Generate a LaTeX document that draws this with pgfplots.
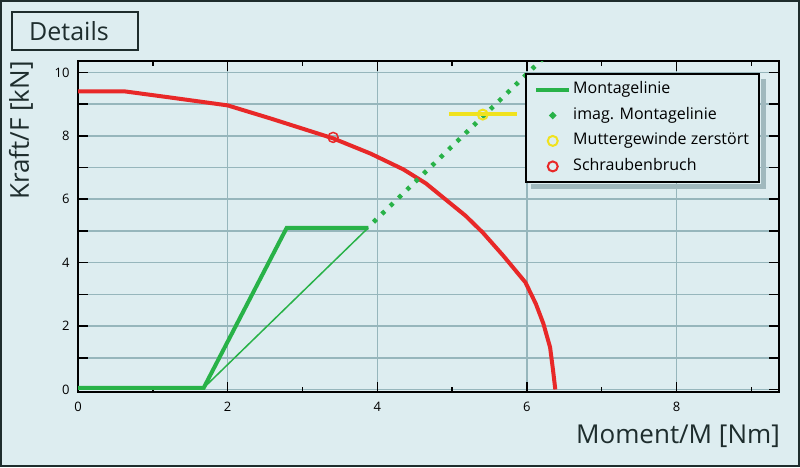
\documentclass[border=0pt]{standalone}
\usepackage{pgfplots}
\pgfplotsset{compat=1.18}
\usepackage{fontspec}
\setmainfont{Open Sans}
\definecolor{bgc}{RGB}{221,237,240}
\definecolor{gridc}{RGB}{150,182,188}
\definecolor{mygreen}{RGB}{40,178,72}
\definecolor{myred}{RGB}{232,40,40}
\definecolor{myyellow}{RGB}{240,226,30}
\definecolor{framec}{RGB}{30,45,45}
\definecolor{shadc}{RGB}{160,185,190}
\begin{document}
\begin{tikzpicture}[x=1pt,y=1pt]
\fill[bgc] (0,0) rectangle (800,467);
\useasboundingbox (0,0) rectangle (800,467);
\draw[framec, line width=2pt] (1,1) rectangle (799,466);
\draw[framec, line width=2pt] (12,417) rectangle (138,455);
\node[font=\fontsize{25}{29}\selectfont, text=framec] at (69,436) {Details};
\begin{axis}[
  at={(78pt,75pt)}, anchor=south west,
  scale only axis, width=701pt, height=331pt,
  xmin=0, xmax=9.37, ymin=-0.08, ymax=10.36,
  axis line style={black, line width=2pt},
  tick style={black, line width=1.5pt},
  major tick length=10pt, minor tick length=5pt,
  tick align=inside, xtick pos=both, ytick pos=both,
  xtick={0,2,4,6,8}, minor xtick={1,3,5,7,9},
  ytick={0,1,...,10}, yticklabels={0,,2,,4,,6,,8,,10},
  grid=major, major grid style={gridc, line width=1.5pt},
  ticklabel style={font=\fontsize{13}{15}\selectfont},
  xticklabel style={yshift=-7pt},
  yticklabel style={xshift=-5pt},
  /pgf/number format/assume math mode=true,
  xlabel={Moment/M [Nm]},
  ylabel={Kraft/F [kN]},
  label style={font=\fontsize{26}{30}\selectfont, inner sep=0pt, text=framec},
  xlabel style={at={(axis description cs:1.0015,-0.1)}, anchor=north east},
  ylabel style={at={(axis description cs:-0.064,1)}, anchor=south east},
  legend style={name=leg, at={(axis description cs:0.638,0.964)}, anchor=north west,
    draw=black, line width=2pt, fill=bgc,
    font=\fontsize{16}{18}\selectfont,
    inner xsep=8pt, inner ysep=6pt, row sep=5.5pt,
    nodes={inner sep=2pt, text height=12pt, text depth=4pt},
    /tikz/every even column/.append style={column sep=11pt}},
  legend cell align=left,
]
% Schraubenbruch curve
\addplot[myred, line width=4pt, forget plot] coordinates {
 (0,9.40) (0.63,9.40) (1.23,9.21) (2.0,8.96) (2.57,8.55) (3.41,7.92)
 (3.91,7.44) (4.35,6.94) (4.65,6.50) (4.93,5.96) (5.18,5.48) (5.41,4.95)
 (5.68,4.23) (5.98,3.38) (6.12,2.70) (6.22,2.08) (6.31,1.33) (6.35,0.60) (6.38,0.0)};
% Montagelinie
\addplot[mygreen, line width=4pt, forget plot] coordinates {
 (0,0.05) (1.68,0.05) (2.79,5.10) (3.88,5.10)};
\addplot[mygreen, line width=1.5pt, forget plot] coordinates {
 (3.88,5.10) (1.68,0.05)};
% imag. Montagelinie
\addplot[mygreen, line width=4.5pt, dash pattern=on 4pt off 7.6pt, forget plot] coordinates {
 (3.95,5.28) (6.22,10.45)};
% Muttergewinde zerstoert
\addplot[myyellow, line width=4pt, forget plot] coordinates {(4.96,8.70) (5.87,8.70)};
\addplot[only marks, mark=o, mark size=5pt, myyellow, line width=2pt, forget plot] coordinates {(5.41,8.67)};
% Schraubenbruch point
\addplot[only marks, mark=o, mark size=5pt, myred, line width=1.5pt, forget plot] coordinates {(3.41,7.95)};
% legend
\addlegendimage{legend image code/.code={\draw[mygreen, line width=4pt] (0pt,0pt) -- (33pt,0pt);}}
\addlegendentry{Montagelinie}
\addlegendimage{legend image code/.code={\fill[mygreen] (16.5pt,0pt) ++(-2.5pt,0pt) -- ++(2.5pt,2.5pt) -- ++(2.5pt,-2.5pt) -- ++(-2.5pt,-2.5pt) -- cycle;}}
\addlegendentry{imag. Montagelinie}
\addlegendimage{legend image code/.code={\draw[myyellow, line width=2pt] (16.5pt,0pt) circle (5pt);}}
\addlegendentry{Muttergewinde zerstört}
\addlegendimage{legend image code/.code={\draw[myred, line width=2pt] (16.5pt,0pt) circle (5pt);}}
\addlegendentry{Schraubenbruch}
\end{axis}
\fill[shadc] ([xshift=1pt,yshift=-6pt]leg.north east) rectangle ([xshift=6pt,yshift=-6pt]leg.south east);
\fill[shadc] ([xshift=6pt,yshift=-1pt]leg.south west) rectangle ([xshift=6pt,yshift=-6pt]leg.south east);
\end{tikzpicture}
\end{document}
